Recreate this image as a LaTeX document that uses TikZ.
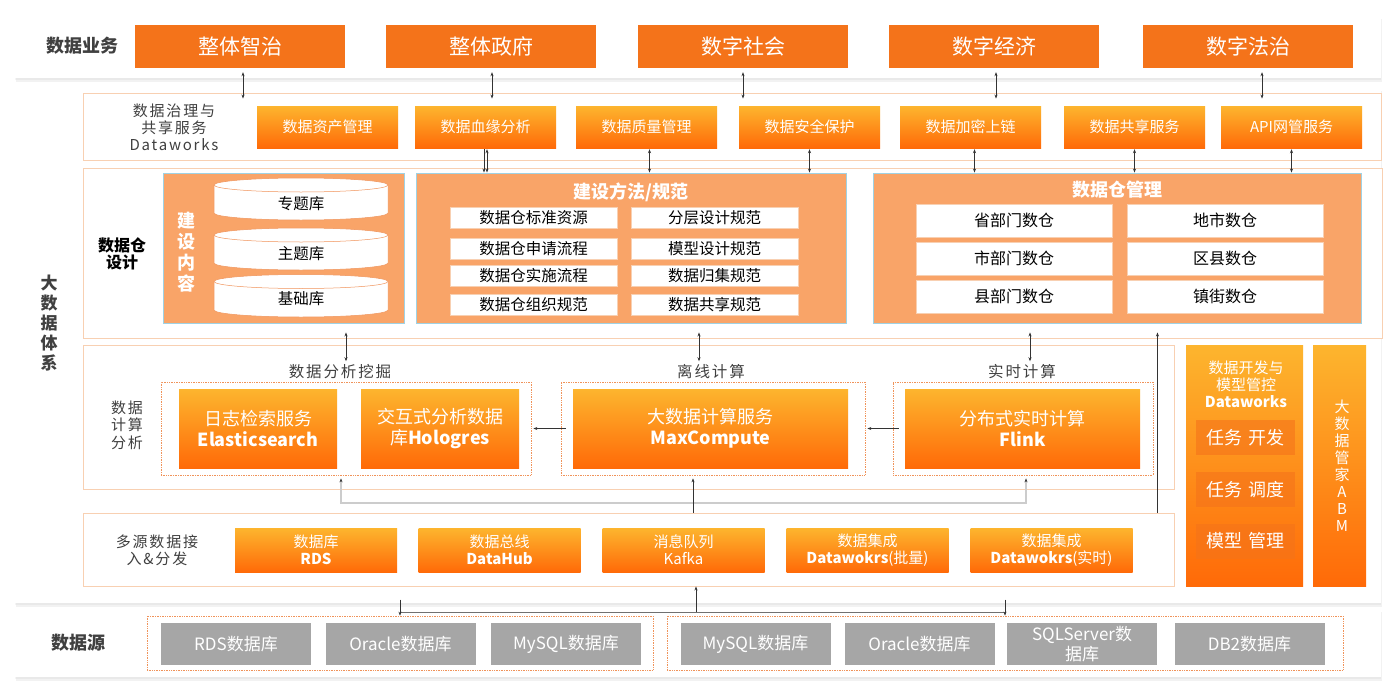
\documentclass[tikz,border=0pt]{standalone}
\usepackage{fontspec}
\setmainfont{Noto Sans CJK SC}
\newfontfamily\spacedcjk{Noto Sans CJK SC}[LetterSpace=12]
\usepackage{xcolor}
\usepackage{tikz}
\usetikzlibrary{arrows.meta,shadows}
\definecolor{DAOrange}{HTML}{F4731A}
\definecolor{DAYellow}{HTML}{FDB52E}
\definecolor{DADeep}{HTML}{FF6A08}
\definecolor{DALight}{HTML}{F9A468}
\definecolor{DABlue}{HTML}{9FD2E4}
\definecolor{DAPeach}{HTML}{F8D0B2}
\definecolor{DADot}{HTML}{F0935A}
\definecolor{DAGray}{HTML}{A6A6A6}
\definecolor{DAText}{HTML}{404040}
\definecolor{DAArrow}{HTML}{333333}
\definecolor{DAFeed}{HTML}{CCCCCC}
\tikzset{
  shadowpanel/.style={fill=white,inner sep=0pt,drop shadow={shadow xshift=1pt,shadow yshift=-4pt,opacity=0.10},drop shadow={shadow xshift=0pt,shadow yshift=-2pt,opacity=0.08}},
  framepanel/.style={fill=white,draw=DAPeach,line width=0.9pt,inner sep=0pt},
  bizbox/.style={fill=DAOrange,text=white,minimum width=210pt,minimum height=43pt,inner sep=0pt,font=\fontsize{21}{24}\selectfont},
  grad/.style={top color=DAYellow,bottom color=DADeep,text=white,inner sep=0pt,align=center},
  govbox/.style={grad,minimum width=141pt,minimum height=42pt,font=\fontsize{15}{18}\selectfont},
  lightbox/.style={fill=DALight,draw=DABlue,line width=0.9pt,minimum height=150pt,inner sep=0pt},
  itembox/.style={fill=white,draw=DAPeach,line width=0.6pt,inner sep=0pt,minimum height=21pt,minimum width=167pt,font=\fontsize{15.5}{18}\selectfont},
  wareitem/.style={itembox,minimum width=196pt,minimum height=33pt,font=\fontsize{16}{18}\selectfont},
  groupbox/.style={draw=DADot,densely dotted,line width=0.7pt,minimum height=93pt,inner sep=0pt},
  calcbox/.style={grad,minimum height=79pt,font=\fontsize{18}{21}\selectfont},
  ingestbox/.style={grad,minimum width=162pt,minimum height=44pt,font=\fontsize{15}{17}\selectfont},
  srcbox/.style={fill=DAGray,text=white,minimum width=150pt,minimum height=42pt,inner sep=0pt,align=center,font=\fontsize{17}{20}\selectfont},
  devitem/.style={fill=DAOrange,fill opacity=0.6,text opacity=1,text=white,minimum width=99pt,minimum height=35pt,inner sep=0pt,font=\fontsize{18}{20}\selectfont},
  sidelabel/.style={text=DAText,align=center,font=\spacedcjk\fontsize{15}{17.5}\selectfont},
  headlabel/.style={text=DAText,align=center,font=\bfseries\fontsize{18}{20}\selectfont},
  arr/.style={-{Stealth[length=4pt,width=3pt]},draw=DAArrow,line width=0.6pt},
  dbl/.style={{Stealth[length=4pt,width=3pt]}-{Stealth[length=4pt,width=3pt]},draw=DAArrow,line width=0.6pt},
  feed/.style={-{Stealth[length=4pt,width=3pt,color=DAArrow]},draw=DAFeed,line width=1.4pt},
}
\begin{document}
\begin{tikzpicture}[x=1pt,y=-1pt]
\path[use as bounding box] (0,0) rectangle (1400,696);
\node[shadowpanel,minimum width=1366pt,minimum height=63pt] (bizpanel) at (698,46.5) {};
\node[shadowpanel,minimum width=1366pt,minimum height=516pt] (syspanel) at (698,345) {};
\node[shadowpanel,minimum width=1366pt,minimum height=69pt] (srcpanel) at (698,642.5) {};
\node[framepanel,minimum width=1298pt,minimum height=67pt] (gov) at (732,126.5) {};
\node[framepanel,minimum width=1299pt,minimum height=170pt] (dw) at (732.5,253) {};
\node[framepanel,minimum width=1091pt,minimum height=144pt] (calc) at (628.5,417) {};
\node[framepanel,minimum width=1091pt,minimum height=73pt] (ingest) at (628.5,549.5) {};
\node[headlabel] (bizlabel) at (82,46) {数据业务};
\foreach \x/\txt [count=\i] in {240/整体智治,491/整体政府,743/数字社会,994/数字经济,1248/数字法治}
  \node[bizbox] (biz\i) at (\x,46.5) {\txt};
\node[headlabel,font=\bfseries\fontsize{17}{20}\selectfont] (syslabel) at (49,323) {大\\数\\据\\体\\系};
\node[sidelabel,font=\spacedcjk\fontsize{15}{17}\selectfont] (govlabel) at (174,127) {数据治理与\\共享服务\\Dataworks};
\foreach \x/\txt [count=\i] in {327.5/数据资产管理,485.5/数据血缘分析,646.5/数据质量管理,809.5/数据安全保护,970.5/数据加密上链,1134.5/数据共享服务,1291.5/API网管服务}
  \node[govbox] (gov\i) at (\x,127) {\txt};
\node[align=center,font=\bfseries\fontsize{16}{17}\selectfont] (dwlabel) at (122,253.5) {数据仓\\设计};
\node[lightbox,minimum width=241pt] (content) at (283.5,248) {};
\node[lightbox,minimum width=430pt] (method) at (631,248) {};
\node[lightbox,minimum width=488pt] (manage) at (1117,248) {};
\node[text=white,align=center,font=\bfseries\fontsize{18}{21}\selectfont] (contentlabel) at (186,252) {建\\设\\内\\容};
\foreach \ytop/\ybot/\ty/\txt [count=\i] in {185/213/204/专题库,235/263/254/主题库,281.5/310/299/基础库}{
  \draw[fill=white,draw=DADot,line width=0.5pt] (214,\ytop) -- (214,\ybot) arc[start angle=180,end angle=360,x radius=87pt,y radius=7pt] -- (388,\ytop) arc[start angle=0,end angle=180,x radius=87pt,y radius=7pt] -- cycle;
  \draw[draw=DADot,line width=0.5pt] (214,\ytop) arc[start angle=180,end angle=360,x radius=87pt,y radius=7pt];
  \node[font=\fontsize{15.5}{18}\selectfont] (cyl\i) at (301,\ty) {\txt};
}
\node[text=white,font=\bfseries\fontsize{18}{20}\selectfont] (methodtitle) at (631,192) {建设方法/规范};
\foreach \y/\l/\r [count=\i] in {218/数据仓标准资源/分层设计规范,249/数据仓申请流程/模型设计规范,276/数据仓实施流程/数据归集规范,305/数据仓组织规范/数据共享规范}{
  \node[itembox] (methodl\i) at (533.5,\y) {\l};
  \node[itembox] (methodr\i) at (714.5,\y) {\r};
}
\node[text=white,font=\bfseries\fontsize{18}{20}\selectfont] (managetitle) at (1117,190) {数据仓管理};
\foreach \y/\l/\r [count=\i] in {220.5/省部门数仓/地市数仓,258.5/市部门数仓/区县数仓,296.5/县部门数仓/镇街数仓}{
  \node[wareitem] (managel\i) at (1014,\y) {\l};
  \node[wareitem] (manager\i) at (1225,\y) {\r};
}
\node[sidelabel] (calclabel) at (127,425) {数据\\计算\\分析};
\node[sidelabel,font=\spacedcjk\fontsize{15.5}{18}\selectfont] (lblmine) at (340,372) {数据分析挖掘};
\node[sidelabel,font=\spacedcjk\fontsize{15.5}{18}\selectfont] (lbloff) at (711,372) {离线计算};
\node[sidelabel,font=\spacedcjk\fontsize{15.5}{18}\selectfont] (lblrt) at (1022,372) {实时计算};
\node[groupbox,minimum width=370pt] (grpmine) at (346,428.5) {};
\node[groupbox,minimum width=304pt] (grpoff) at (713,428.5) {};
\node[groupbox,minimum width=260pt] (grprt) at (1023,428.5) {};
\node[calcbox,minimum width=158pt] (es) at (258,428.5) {日志检索服务\\\textbf{Elasticsearch}};
\node[calcbox,minimum width=158pt] (holo) at (440,428.5) {交互式分析数据\\库\textbf{Hologres}};
\node[calcbox,minimum width=275pt] (mc) at (710.5,428.5) {大数据计算服务\\\textbf{MaxCompute}};
\node[calcbox,minimum width=235pt] (flink) at (1022.5,428.5) {分布式实时计算\\\textbf{Flink}};
\node[sidelabel] (ingestlabel) at (157,550.5) {多源数据接\\入\&分发};
\foreach \x/\txt [count=\i] in {316/{数据库\\\textbf{RDS}},499.5/{数据总线\\\textbf{DataHub}},683.5/{消息队列\\Kafka},867.5/{数据集成\\\textbf{Datawokrs}(批量)},1051.5/{数据集成\\\textbf{Datawokrs}(实时)}}
  \node[ingestbox] (ingest\i) at (\x,550) {\txt};
\node[grad,minimum width=117pt,minimum height=241pt] (dev) at (1244.5,465.5) {};
\node[text=white,align=center,font=\fontsize{15}{17}\selectfont] (devtitle) at (1246,384) {数据开发与\\模型管控\\\textbf{Dataworks}};
\foreach \y/\txt [count=\i] in {437.5/任务\hspace{0.35em}开发,489.5/任务\hspace{0.35em}调度,541/模型\hspace{0.35em}管理}
  \node[devitem] (devitem\i) at (1245.5,\y) {\txt};
\node[grad,minimum width=53pt,minimum height=241pt] (abm) at (1339.5,465.5) {};
\node[text=white,align=center,font=\fontsize{15}{17}\selectfont] (abmtext) at (1342,466) {大\\数\\据\\管\\家\\A\\B\\M};
\node[headlabel] (srclabel) at (78,643) {数据源};
\node[groupbox,minimum width=506pt,minimum height=54pt] (srcA) at (400,643) {};
\node[groupbox,minimum width=676pt,minimum height=54pt] (srcB) at (1005,643) {};
\foreach \x/\txt [count=\i] in {236/RDS数据库,400.5/Oracle数据库,566/MySQL数据库,755.5/MySQL数据库,919.5/Oracle数据库,1082/{SQLServer数\\据库},1249.5/DB2数据库}
  \node[srcbox] (src\i) at (\x,644) {\txt};
\foreach \b/\dx in {biz1/3pt,biz2/1pt,biz3/0pt,biz4/2pt,biz5/14pt}
  \draw[dbl] ([xshift=\dx,yshift=-4pt]\b.south) -- ([xshift=\dx,yshift=-6pt]\b.south |- gov.north);
\draw[arr] ([xshift=-1.5pt,yshift=-1pt]gov2.south) -- ([xshift=-1.5pt]gov2.south |- method.north);
\draw[dbl] ([xshift=1.5pt,yshift=-1pt]gov2.south) -- ([xshift=1.5pt]gov2.south |- method.north);
\foreach \g/\t/\dx in {gov3/method/3pt,gov4/method/0pt,gov5/manage/4pt,gov6/manage/0pt,gov7/manage/0pt}
  \draw[dbl] ([xshift=\dx,yshift=-1pt]\g.south) -- ([xshift=\dx]\g.south |- \t.north);
\draw[dbl] ([xshift=6pt]lblmine.north) -- ([xshift=6pt,yshift=6pt]lblmine.north |- dw.south);
\draw[dbl] ([xshift=-12pt]lbloff.north) -- ([xshift=-12pt,yshift=6pt]lbloff.north |- dw.south);
\draw[dbl] ([xshift=8pt]lblrt.north) -- ([xshift=8pt,yshift=6pt]lblrt.north |- dw.south);
\draw[arr] ([xshift=-17pt]ingest.north east) -- ([xshift=-17pt,yshift=6pt]ingest.north east |- dw.south);
\draw[arr] ([xshift=5pt]grpoff.west) -- ([xshift=2pt]grpmine.east);
\draw[arr] ([xshift=6pt]grprt.west) -- ([xshift=2pt]grpoff.east);
\coordinate (hub) at (693,503);
\draw[feed] (hub) -| ([xshift=-5pt,yshift=-3pt]grpmine.south);
\draw[feed] (hub) -| ([xshift=3pt,yshift=-3pt]grprt.south);
\draw[arr] (hub |- ingest.north) -- ([yshift=-3pt]hub |- grpoff.south);
\coordinate (srcbus) at (696,612);
\draw[DAArrow!70,line width=0.8pt] (srcA.north |- srcbus) -- (srcB.north |- srcbus);
\draw[arr] (srcbus) -- (srcbus |- ingest.south);
\draw[arr] ([yshift=16pt]srcA.north) -- (srcA.north);
\draw[arr] ([yshift=16pt]srcB.north) -- (srcB.north);
\end{tikzpicture}
\end{document}
